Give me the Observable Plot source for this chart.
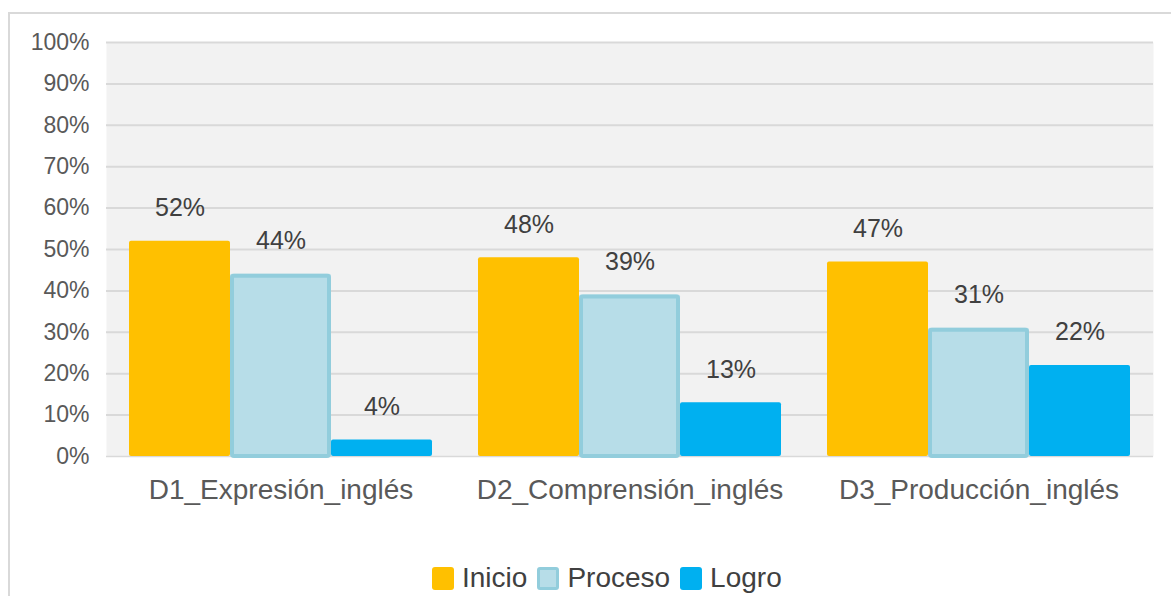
<!DOCTYPE html>
<html>
<head>
<meta charset="utf-8">
<script src="https://cdn.jsdelivr.net/npm/d3@7"></script>
<script src="https://cdn.jsdelivr.net/npm/@observablehq/plot@0.6"></script>
<style>
  html, body { margin: 0; padding: 0; background: #fff; }
  body { width: 1171px; height: 596px; position: relative; overflow: hidden; font-family: "Liberation Sans", Arial, sans-serif; }
  #border { position: absolute; left: 8px; top: 12px; right: 0; bottom: 0; border-top: 2px solid #d9d9d9; border-left: 2px solid #d9d9d9; pointer-events: none; }
  #chart { position: absolute; left: 0; top: 0; }
  #legend { position: absolute; top: 562px; left: 432px; height: 32px; display: flex; align-items: center; font-size: 28px; color: #404040; white-space: nowrap; }
  .sw { display: inline-block; width: 22px; height: 23px; border-radius: 3px; margin-right: 8px; box-sizing: border-box; }
  .item { display: flex; align-items: center; margin-right: 10px; }
</style>
</head>
<body>
<div id="border"></div>
<div id="chart"></div>
<div id="legend"></div>
<script>
const categories = ["D1_Expresión_inglés", "D2_Comprensión_inglés", "D3_Producción_inglés"];
const seriesNames = ["Inicio", "Proceso", "Logro"];
const inicio = [52, 48, 47];
const proceso = [44, 39, 31];
const logro = [4, 13, 22];
const yTicks = [0, 10, 20, 30, 40, 50, 60, 70, 80, 90, 100];
const fills = {Inicio: "#ffc000", Proceso: "#b7dde8", Logro: "#00b0f0"};
const strokes = {Inicio: "#ffc000", Proceso: "#92cddc", Logro: "#00b0f0"};

const data = [];
categories.forEach((c, i) => {
  data.push({cat: c, series: "Inicio", value: inicio[i]});
  data.push({cat: c, series: "Proceso", value: proceso[i]});
  data.push({cat: c, series: "Logro", value: logro[i]});
});

const chart = Plot.plot({
  width: 1171,
  height: 530,
  marginLeft: 105,
  marginRight: 18,
  marginTop: 42,
  marginBottom: 74,
  style: {fontFamily: "Liberation Sans, Arial, sans-serif", background: "transparent"},
  fx: {domain: categories, padding: 0, label: null},
  x: {domain: seriesNames, paddingInner: 0, paddingOuter: 0.2236, axis: null},
  y: {domain: [0, 100], axis: null},
  marks: [
    Plot.frame({fill: "#f2f2f2", stroke: null, facet: "super"}),
    Plot.gridY(yTicks.filter(d => d > 0), {stroke: "#d9d9d9", strokeWidth: 2, strokeOpacity: 1}),
    Plot.gridY([0], {stroke: "#d9d9d9", strokeWidth: 1.5, strokeOpacity: 1}),
    Plot.axisY(yTicks, {tickSize: 0, tickPadding: 17, tickFormat: d => d + "%", fontSize: 23, fill: "#595959", label: null}),
    Plot.axisFx({anchor: "bottom", tickSize: 0, tickPadding: 23, fontSize: 28, fill: "#595959", label: null}),
    Plot.barY(data, {fx: "cat", x: "series", y: "value",
      fill: d => fills[d.series], strokeWidth: 0, rx: 2}),
    Plot.barY(data.filter(d => d.series === "Proceso"), {fx: "cat", x: "series", y: "value",
      fill: d => fills[d.series], stroke: d => strokes[d.series],
      strokeWidth: 4, insetLeft: 2, insetRight: 2, insetTop: 2, rx: 2}),
    Plot.text(data, {fx: "cat", x: "series", y: "value", text: d => d.value + "%",
      dy: -33, fontSize: 25, fill: "#404040"})
  ]
});
document.getElementById("chart").appendChild(chart);

const legend = document.getElementById("legend");
seriesNames.forEach(s => {
  const it = document.createElement("span");
  it.className = "item";
  const sw = document.createElement("span");
  sw.className = "sw";
  sw.style.background = fills[s];
  if (s === "Proceso") sw.style.border = "3px solid " + strokes[s];
  it.appendChild(sw);
  it.appendChild(document.createTextNode(s));
  legend.appendChild(it);
});
</script>
</body>
</html>
